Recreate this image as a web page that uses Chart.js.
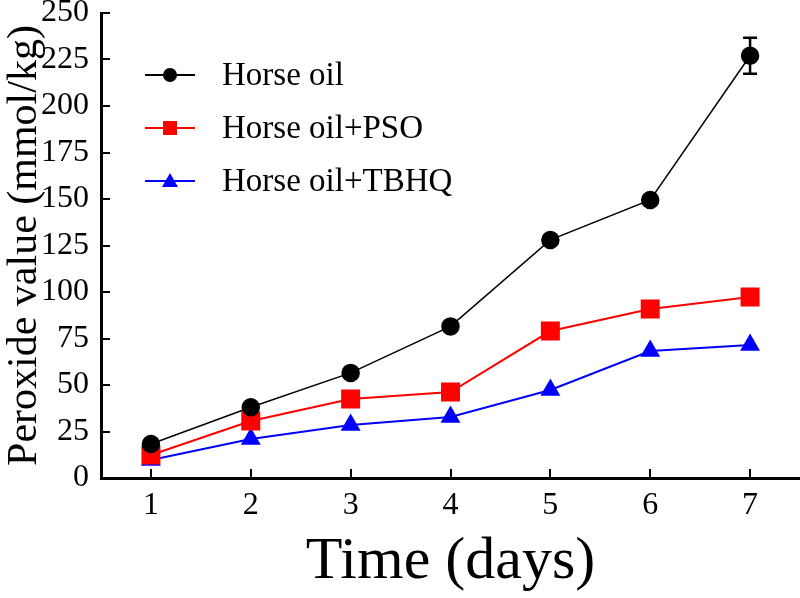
<!DOCTYPE html>
<html>
<head>
<meta charset="utf-8">
<script src="https://cdn.jsdelivr.net/npm/chart.js@4.4.1/dist/chart.umd.min.js"></script>
<style>
  html, body { margin: 0; padding: 0; background: #fff; }
  #wrap { width: 800px; height: 598px; position: relative; }
</style>
</head>
<body>
<div id="wrap"><canvas id="chart"></canvas></div>
<script>
const days = ["1", "2", "3", "4", "5", "6", "7"];

const horseOil     = [18.3, 38.0, 56.5, 81.5, 128.0, 149.5, 227.0];
const horseOilPSO  = [12.4, 30.6, 42.5, 46.2, 79.0, 90.9, 97.3];
const horseOilTBHQ = [9.7, 21.0, 28.5, 32.8, 47.3, 68.3, 71.5];

// only the last black point has a visible error bar
const horseOilErr     = [0, 0, 0, 0, 0, 0, 9.7];
const horseOilPSOErr  = [0, 0, 0, 0, 0, 0, 0];
const horseOilTBHQErr = [0, 0, 0, 0, 0, 0, 0];

const yTicks = [0, 25, 50, 75, 100, 125, 150, 175, 200, 225, 250];

const SERIF = "'Liberation Serif', 'DejaVu Serif', serif";

// error bars drawn from the y scale
const errorBars = {
  id: "errorBars",
  afterDatasetsDraw(chart) {
    const { ctx, scales: { x, y } } = chart;
    ctx.save();
    chart.data.datasets.forEach(ds => {
      if (!ds.errors) return;
      ds.data.forEach((v, i) => {
        const e = ds.errors[i];
        if (!e) return;
        const px = x.getPixelForValue(i);
        const top = y.getPixelForValue(v + e);
        const bot = y.getPixelForValue(v - e);
        ctx.strokeStyle = ds.borderColor;
        ctx.lineWidth = 2.5;
        ctx.beginPath();
        ctx.moveTo(px, top); ctx.lineTo(px, bot);
        ctx.moveTo(px - 7, top); ctx.lineTo(px + 7, top);
        ctx.moveTo(px - 7, bot); ctx.lineTo(px + 7, bot);
        ctx.stroke();
      });
    });
    ctx.restore();
  }
};

// inward tick marks on both axes
const innerTicks = {
  id: "innerTicks",
  afterDraw(chart) {
    const { ctx, chartArea: a, scales: { x, y } } = chart;
    ctx.save();
    ctx.strokeStyle = "#000";
    ctx.lineWidth = 2;
    ctx.beginPath();
    y.ticks.forEach(t => {
      const py = Math.round(y.getPixelForValue(t.value));
      ctx.moveTo(a.left, py); ctx.lineTo(a.left + 9, py);
    });
    x.ticks.forEach((t, i) => {
      const px = Math.round(x.getPixelForValue(i));
      ctx.moveTo(px, a.bottom); ctx.lineTo(px, a.bottom - 9);
    });
    ctx.stroke();
    ctx.restore();
  }
};

// legend drawn inside the plot, upper left
const insideLegend = {
  id: "insideLegend",
  afterDraw(chart) {
    const { ctx } = chart;
    const rows = [75, 128, 181];
    ctx.save();
    ctx.font = "33px " + SERIF;
    ctx.textBaseline = "middle";
    chart.data.datasets.forEach((ds, i) => {
      const yy = rows[i];
      ctx.strokeStyle = ds.borderColor;
      ctx.fillStyle = ds.backgroundColor;
      ctx.lineWidth = 2;
      ctx.beginPath();
      ctx.moveTo(145, yy); ctx.lineTo(195, yy);
      ctx.stroke();
      ctx.beginPath();
      if (ds.pointStyle === "circle") {
        ctx.arc(170, yy, 7, 0, Math.PI * 2);
        ctx.fill();
      } else if (ds.pointStyle === "rect") {
        ctx.fillRect(163, yy - 7, 14, 14);
      } else {
        ctx.moveTo(170, yy - 8);
        ctx.lineTo(178, yy + 6);
        ctx.lineTo(162, yy + 6);
        ctx.closePath();
        ctx.fill();
      }
      ctx.fillStyle = "#000";
      ctx.fillText(ds.label, 222, yy + 1);
    });
    ctx.restore();
  }
};

new Chart(document.getElementById("chart"), {
  type: "line",
  data: {
    labels: days,
    datasets: [
      { label: "Horse oil", data: horseOil, errors: horseOilErr,
        borderColor: "#000000", backgroundColor: "#000000", borderWidth: 1.5,
        pointStyle: "circle", pointRadius: 8.5 },
      { label: "Horse oil+PSO", data: horseOilPSO, errors: horseOilPSOErr,
        borderColor: "#ff0000", backgroundColor: "#ff0000", borderWidth: 2,
        pointStyle: "rect", pointRadius: 12 },
      { label: "Horse oil+TBHQ", data: horseOilTBHQ, errors: horseOilTBHQErr,
        borderColor: "#0000ff", backgroundColor: "#0000ff", borderWidth: 2,
        pointStyle: "triangle", pointRadius: 9.5 }
    ]
  },
  options: {
    responsive: true,
    maintainAspectRatio: false,
    animation: false,
    layout: { autoPadding: false, padding: { top: 13, right: 0, left: 0, bottom: 0 } },
    plugins: { legend: { display: false }, tooltip: { enabled: false } },
    elements: { line: { tension: 0 }, point: { borderWidth: 0 } },
    scales: {
      x: {
        type: "category",
        offset: true,
        grid: { display: false, drawTicks: false },
        border: { display: true, color: "#000", width: 3 },
        ticks: { color: "#000", padding: 8, font: { family: SERIF, size: 32 } },
        title: { display: true, text: "Time (days)", color: "#000",
                 font: { family: SERIF, size: 60 }, padding: { top: 4, bottom: 0 } },
        afterFit(scale) {
          scale.height = 120;
          scale.paddingLeft = 0; scale.paddingRight = 0;
        }
      },
      y: {
        min: 0, max: 250,
        grid: { display: false, drawTicks: false },
        border: { display: true, color: "#000", width: 3 },
        afterBuildTicks(scale) { scale.ticks = yTicks.map(v => ({ value: v })); },
        ticks: { color: "#000", padding: 12, font: { family: SERIF, size: 32 } },
        title: { display: true, text: "Peroxide value (mmol/kg)", color: "#000",
                 font: { family: SERIF, size: 42 }, padding: { top: 0, bottom: 0 } },
        afterFit(scale) {
          scale.width = 101;
          scale.paddingTop = 0; scale.paddingBottom = 0;
        }
      }
    }
  },
  plugins: [errorBars, innerTicks, insideLegend]
});
</script>
</body>
</html>
